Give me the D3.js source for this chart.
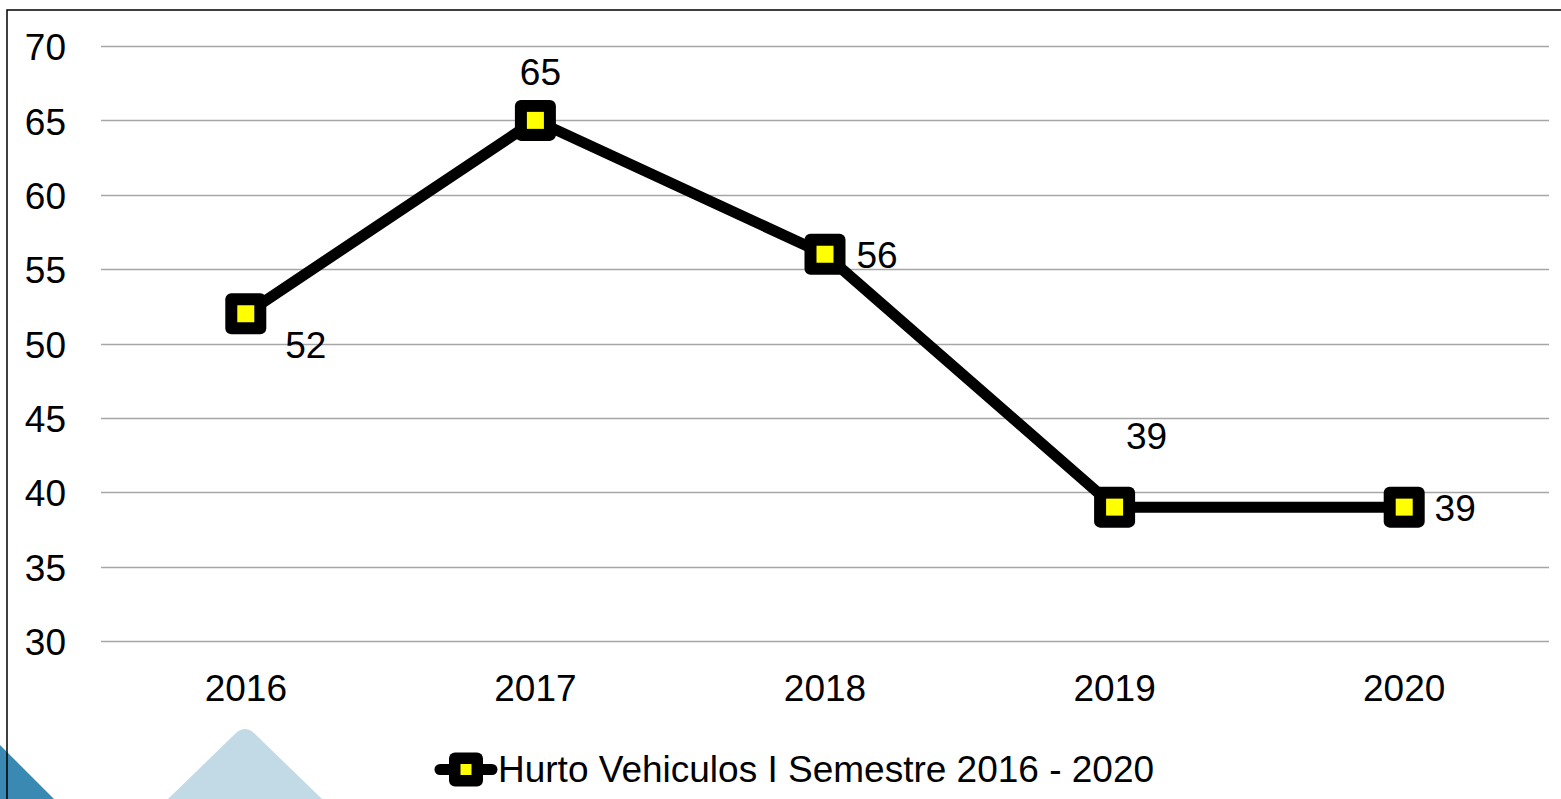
<!DOCTYPE html>
<html>
<head>
<meta charset="utf-8">
<script src="https://cdn.jsdelivr.net/npm/d3@7"></script>
<style>
  html, body { margin: 0; padding: 0; background: #fff; overflow: hidden; }
  text { font-family: "Liberation Sans", Arial, sans-serif; fill: #000; }
</style>
</head>
<body>
<div id="chart"></div>
<script>
// data
var years = ['2016', '2017', '2018', '2019', '2020'];
var hurtos = [52, 65, 56, 39, 39];
var yTicks = [30, 35, 40, 45, 50, 55, 60, 65, 70];
var seriesName = 'Hurto Vehiculos I Semestre 2016 - 2020';

// where each value label sits relative to its point (dx, dy)
var labelPlacement = [[60, 44], [5, -35], [52, 14], [32, -58], [51, 14]];

var W = 1561, H = 799;
var margin = { top: 46, right: 12, bottom: 158, left: 101 };
var width = W - margin.left - margin.right,
    height = H - margin.top - margin.bottom;
var fs = '37px';

var svg = d3.select('#chart').append('svg')
    .attr('width', W)
    .attr('height', H);

// decorative shapes bottom left
svg.append('path')
    .attr('d', 'M0,745 L54,799 L0,799 Z')
    .style('fill', '#3a89b3');
svg.append('path')
    .attr('d', 'M168,799 L236,733 Q245,725 254,733 L322,799 Z')
    .style('fill', '#c1dae5');

// outer frame
svg.append('path')
    .attr('d', 'M7,' + H + ' L7,10 L' + W + ',10')
    .style('fill', 'none')
    .style('stroke', '#000')
    .style('stroke-width', 1.5);

var g = svg.append('g')
    .attr('transform', 'translate(' + margin.left + ',' + margin.top + ')');

var x = d3.scaleBand()
    .domain(years)
    .range([0, width]);

var y = d3.scaleLinear()
    .domain([30, 70])
    .range([height, 0]);

// grid lines
g.selectAll('.grid')
    .data(yTicks)
    .enter().append('line')
    .attr('class', 'grid')
    .attr('x1', 0)
    .attr('x2', width)
    .attr('y1', function (d) { return Math.round(y(d)) + 0.5; })
    .attr('y2', function (d) { return Math.round(y(d)) + 0.5; })
    .style('stroke', '#a6a6a6')
    .style('stroke-width', 1.5);

// y axis labels
var yAxis = d3.axisLeft(y).tickValues(yTicks).tickSize(0).tickPadding(35);
var gy = g.append('g').call(yAxis);
gy.select('.domain').remove();
gy.selectAll('text')
    .style('font-size', fs)
    .attr('dy', '0.37em');

// x axis labels
var xAxis = d3.axisBottom(x).tickSize(0).tickPadding(34);
var gx = g.append('g')
    .attr('transform', 'translate(0,' + height + ')')
    .call(xAxis);
gx.select('.domain').remove();
gx.selectAll('text').style('font-size', fs);

// line
var line = d3.line()
    .x(function (d, i) { return x(years[i]) + x.bandwidth() / 2; })
    .y(function (d) { return y(d); });

g.append('path')
    .datum(hurtos)
    .attr('d', line)
    .style('fill', 'none')
    .style('stroke', '#000')
    .style('stroke-width', 11)
    .style('stroke-linejoin', 'round');

// markers
function marker(sel, outer, inner) {
    sel.append('rect')
        .attr('x', -outer / 2).attr('y', -outer / 2)
        .attr('width', outer).attr('height', outer)
        .attr('rx', 6)
        .style('fill', '#000');
    sel.append('rect')
        .attr('x', -inner / 2).attr('y', -inner / 2)
        .attr('width', inner).attr('height', inner)
        .style('fill', '#ffff00');
}

var pts = g.selectAll('.pt')
    .data(hurtos)
    .enter().append('g')
    .attr('class', 'pt')
    .attr('transform', function (d, i) {
        return 'translate(' + (x(years[i]) + x.bandwidth() / 2) + ',' + y(d) + ')';
    });
marker(pts, 41, 17);

// value labels
g.selectAll('.lbl')
    .data(hurtos)
    .enter().append('text')
    .attr('class', 'lbl')
    .attr('x', function (d, i) { return x(years[i]) + x.bandwidth() / 2 + labelPlacement[i][0]; })
    .attr('y', function (d, i) { return y(d) + labelPlacement[i][1]; })
    .attr('text-anchor', 'middle')
    .style('font-size', fs)
    .text(function (d) { return d; });

// legend
var lg = svg.append('g').attr('transform', 'translate(466,769.5)');
lg.append('line')
    .attr('x1', -26).attr('x2', 26)
    .style('stroke', '#000')
    .style('stroke-width', 11)
    .style('stroke-linecap', 'round');
marker(lg, 34, 11);
lg.append('text')
    .attr('x', 32)
    .attr('y', 12.5)
    .style('font-size', fs)
    .text(seriesName);
</script>
</body>
</html>
